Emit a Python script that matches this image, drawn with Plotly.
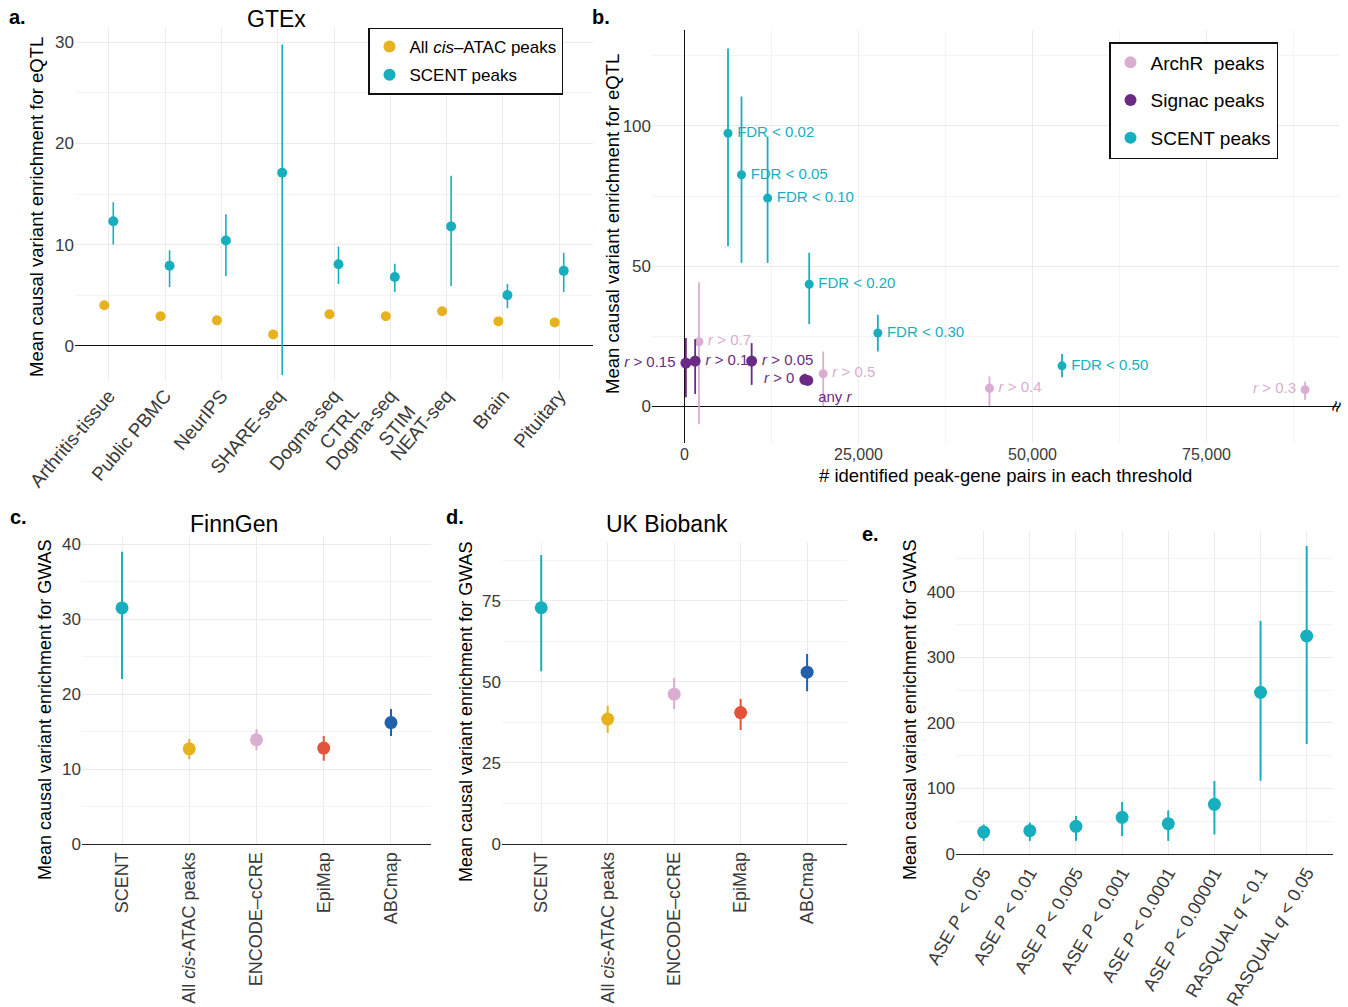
import plotly.graph_objects as go

W, H = 1348, 1007
FONT = "Liberation Sans, Arial, sans-serif"
TEAL = "#17AFBE"
YELLOW = "#E6B31E"
PINK = "#D9AED0"
PURPLE = "#6B2A84"
RED = "#E3533A"
BLUE = "#2260AC"
GRID = "#EBEBEB"
MINOR = "#F4F4F4"
TICKC = "#3A3A3A"

# ---------------- Panel a: GTEx ----------------
gtex_datasets = ["Arthritis-tissue", "Public PBMC", "NeurIPS", "SHARE-seq",
                 "Dogma-seq<br>CTRL", "Dogma-seq<br>STIM", "NEAT-seq", "Brain", "Pituitary"]
gtex_all_mean = [4.0, 2.9, 2.5, 1.1, 3.1, 2.9, 3.4, 2.4, 2.3]
gtex_all_hi = [4.3, 3.2, 2.8, 1.4, 3.4, 3.2, 3.7, 2.7, 2.6]
gtex_all_lo = [3.7, 2.6, 2.2, 0.8, 2.8, 2.6, 3.1, 2.1, 2.0]
gtex_scent_mean = [12.3, 7.9, 10.4, 17.1, 8.05, 6.8, 11.8, 5.0, 7.4]
gtex_scent_hi = [14.2, 9.45, 13.0, 29.8, 9.8, 8.1, 16.8, 6.1, 9.2]
gtex_scent_lo = [10.0, 5.8, 6.9, -2.9, 6.1, 5.3, 5.9, 3.7, 5.3]

# ---------------- Panel b: thresholds ----------------
scent_labels = ["FDR &lt; 0.02", "FDR &lt; 0.05", "FDR &lt; 0.10", "FDR &lt; 0.20", "FDR &lt; 0.30", "FDR &lt; 0.50"]
scent_npairs = [6250, 8190, 11940, 17920, 27780, 54240]
scent_mean = [97.4, 82.6, 74.3, 43.6, 26.2, 14.5]
scent_hi = [127.6, 110.5, 96.2, 54.8, 32.7, 18.7]
scent_lo = [57.1, 51.2, 51.2, 29.4, 19.6, 10.4]
scent_pos = ["middle right"] * 6

signac_labels = ["<i>r</i> &gt; 0.15", "<i>r</i> &gt; 0.1", "<i>r</i> &gt; 0.05", "<i>r</i> &gt; 0", "any <i>r</i>"]
signac_npairs = [200, 1530, 9650, 17290, 17710]
signac_mean = [15.5, 16.2, 16.2, 9.6, 9.3]
signac_hi = [24.4, 24.0, 22.6, 11.7, 10.8]
signac_lo = [3.3, 4.5, 7.7, 8.1, 7.8]
signac_pos = ["middle left", "middle right", "middle right", "middle left", "bottom right"]

archr_labels = ["<i>r</i> &gt; 0.7", "<i>r</i> &gt; 0.5", "<i>r</i> &gt; 0.4", "<i>r</i> &gt; 0.3"]
archr_npairs = [2080, 19930, 43820, 89170]
archr_mean = [23.1, 11.7, 6.5, 6.0]
archr_hi = [44.3, 19.6, 10.7, 8.9]
archr_lo = [-6.3, 0.2, 0.2, 2.4]
archr_pos = ["middle right", "middle right", "middle right", "middle left"]

# ---------------- Panels c, d: GWAS ----------------
annot_sets = ["SCENT", "All <i>cis</i>-ATAC peaks", "ENCODE–cCRE", "EpiMap", "ABCmap"]
annot_colors = [TEAL, YELLOW, PINK, RED, BLUE]
finngen_mean = [31.5, 12.7, 13.9, 12.8, 16.2]
finngen_hi = [39.0, 14.0, 15.3, 14.4, 18.0]
finngen_lo = [22.0, 11.3, 12.5, 11.1, 14.4]
ukb_mean = [72.9, 38.5, 46.2, 40.5, 53.0]
ukb_hi = [89.2, 42.6, 51.2, 44.7, 58.6]
ukb_lo = [53.3, 34.3, 41.6, 35.1, 47.1]

# ---------------- Panel e: ASE / RASQUAL ----------------
qtl_sets = ["ASE <i>P</i> &lt; 0.05", "ASE <i>P</i> &lt; 0.01", "ASE <i>P</i> &lt; 0.005",
            "ASE <i>P</i> &lt; 0.001", "ASE <i>P</i> &lt; 0.0001", "ASE <i>P</i> &lt; 0.00001",
            "RASQUAL <i>q</i> &lt; 0.1", "RASQUAL <i>q</i> &lt; 0.05"]
qtl_mean = [33.5, 35.6, 42.2, 55.9, 46.3, 75.7, 246.5, 332.4]
qtl_hi = [45, 48, 58, 79.3, 66.6, 111.3, 355.3, 469.6]
qtl_lo = [20, 20, 20, 27.4, 20, 30, 111.8, 167.7]


def err(mean, hi, lo, color, thick=1.6):
    return dict(type="data", symmetric=False,
                array=[h - m for h, m in zip(hi, mean)],
                arrayminus=[m - l for m, l in zip(mean, lo)],
                color=color, thickness=thick, width=0)


fig = go.Figure()

# Panel a
DODGE = 0.08
idx_a = list(range(len(gtex_datasets)))
fig.add_trace(go.Scatter(
    x=[i - DODGE for i in idx_a], y=gtex_all_mean, mode="markers",
    marker=dict(color=YELLOW, size=10), error_y=err(gtex_all_mean, gtex_all_hi, gtex_all_lo, YELLOW),
    name="All <i>cis</i>–ATAC peaks", legend="legend", legendgroup="a1", xaxis="x", yaxis="y"))
fig.add_trace(go.Scatter(
    x=[i + DODGE for i in idx_a], y=gtex_scent_mean, mode="markers",
    marker=dict(color=TEAL, size=10), error_y=err(gtex_scent_mean, gtex_scent_hi, gtex_scent_lo, TEAL),
    name="SCENT peaks", legend="legend", legendgroup="a2", xaxis="x", yaxis="y"))

# Panel b
for grp, name, xs, ys, hi, lo, col, sz, labels, pos in [
    ("g1", "ArchR  peaks", archr_npairs, archr_mean, archr_hi, archr_lo, PINK, 9, archr_labels, archr_pos),
    ("g2", "Signac peaks", signac_npairs, signac_mean, signac_hi, signac_lo, PURPLE, 11, signac_labels, signac_pos),
    ("g3", "SCENT peaks", scent_npairs, scent_mean, scent_hi, scent_lo, TEAL, 9, scent_labels, scent_pos),
]:
    fig.add_trace(go.Scatter(
        x=xs, y=ys, mode="markers", marker=dict(color=col, size=sz),
        error_y=err(ys, hi, lo, col, 1.8), name=name, legend="legend2", legendgroup=grp,
        xaxis="x2", yaxis="y2"))
    fig.add_trace(go.Scatter(
        x=xs, y=ys, mode="markers+text", text=labels, textposition=pos,
        marker=dict(size=sz + 4, color="rgba(0,0,0,0)"), cliponaxis=False,
        textfont=dict(color=col, size=15, family=FONT), showlegend=False,
        hoverinfo="skip", xaxis="x2", yaxis="y2"))

# Panels c, d
idx_cd = list(range(len(annot_sets)))
for i, col in enumerate(annot_colors):
    fig.add_trace(go.Scatter(
        x=[idx_cd[i]], y=[finngen_mean[i]], mode="markers", marker=dict(color=col, size=13),
        error_y=err([finngen_mean[i]], [finngen_hi[i]], [finngen_lo[i]], col, 2),
        showlegend=False, xaxis="x3", yaxis="y3"))
    fig.add_trace(go.Scatter(
        x=[idx_cd[i]], y=[ukb_mean[i]], mode="markers", marker=dict(color=col, size=13),
        error_y=err([ukb_mean[i]], [ukb_hi[i]], [ukb_lo[i]], col, 2),
        showlegend=False, xaxis="x4", yaxis="y4"))

# Panel e
idx_e = list(range(len(qtl_sets)))
fig.add_trace(go.Scatter(
    x=idx_e, y=qtl_mean, mode="markers", marker=dict(color=TEAL, size=13),
    error_y=err(qtl_mean, qtl_hi, qtl_lo, TEAL, 2), showlegend=False, xaxis="x5", yaxis="y5"))


def px(x0, x1):
    return [x0 / W, x1 / W]


def py(top, bottom):
    return [1 - bottom / H, 1 - top / H]


tickfont = dict(family=FONT, size=17, color=TICKC)


def yax(domain, rng, dtick, minor, anchor, zeroline=True):
    return dict(domain=domain, range=rng, dtick=dtick, tick0=0, anchor=anchor,
                showgrid=True, gridcolor=GRID, gridwidth=1.3,
                minor=dict(dtick=minor, tick0=0, showgrid=True, gridcolor=MINOR, gridwidth=1.1),
                zeroline=zeroline, zerolinecolor="#111111", zerolinewidth=1.4,
                showline=False, ticks="", tickfont=tickfont, automargin=False, fixedrange=True)


def xcat(domain, rng, vals, text, angle, anchor, size=18):
    return dict(domain=domain, range=rng, tickvals=vals, ticktext=text, tickangle=angle,
                anchor=anchor, showgrid=True, gridcolor=GRID, gridwidth=1.3, zeroline=False,
                showline=False, ticks="", tickfont=dict(family=FONT, size=size, color=TICKC),
                automargin=False, fixedrange=True)


layout = dict(
    width=W, height=H, margin=dict(l=0, r=0, t=0, b=0), autosize=False,
    paper_bgcolor="white", plot_bgcolor="white",
    font=dict(family=FONT, color="black"),
    xaxis=xcat(px(75, 593), [-0.6, 8.6], idx_a, gtex_datasets, -50, "y", size=19),
    yaxis=yax(py(28.3, 380), [-3.4, 31.4], 10, 5, "x"),
    xaxis2=dict(domain=px(652, 1339), range=[-4670, 94040], tickvals=[0, 25000, 50000, 75000],
                tickformat=",", anchor="y2", showgrid=True, gridcolor=GRID, gridwidth=1.3,
                minor=dict(dtick=12500, tick0=0, showgrid=True, gridcolor=MINOR, gridwidth=1.1),
                zeroline=True, zerolinecolor="#111111", zerolinewidth=1.4, showline=False,
                ticks="", tickfont=dict(family=FONT, size=16, color=TICKC), automargin=False,
                fixedrange=True),
    yaxis2=yax(py(30, 443), [-13, 134.2], 50, 25, "x2"),
    xaxis3=xcat(px(82, 431), [-0.595, 4.595], idx_cd, annot_sets, -90, "y3"),
    yaxis3=yax(py(536.7, 844), [0, 41], 10, 5, "x3", zeroline=False),
    xaxis4=xcat(px(502, 847), [-0.59, 4.6], idx_cd, annot_sets, -90, "y4"),
    yaxis4=yax(py(541.7, 843.7), [0, 93.3], 25, 12.5, "x4", zeroline=False),
    xaxis5=xcat(px(956, 1333), [-0.6, 7.57], idx_e, qtl_sets, -60, "y5"),
    yaxis5=yax(py(530.7, 854), [0, 493], 100, 50, "x5", zeroline=False),
    legend=dict(x=368 / W, y=1 - 27.5 / H, xanchor="left", yanchor="top",
                bordercolor="#111111", borderwidth=1.5, bgcolor="white",
                font=dict(family=FONT, size=17, color="black"), tracegroupgap=3,
                itemsizing="constant"),
    legend2=dict(x=1109 / W, y=1 - 42 / H, xanchor="left", yanchor="top",
                 bordercolor="#111111", borderwidth=1.5, bgcolor="white",
                 font=dict(family=FONT, size=19, color="black"), tracegroupgap=10,
                 itemsizing="constant"),
    showlegend=True,
)
for ax in ["xaxis3", "xaxis4", "xaxis5"]:
    layout[ax].update(showline=True, linecolor="#222222", linewidth=1.3)

fig.update_layout(**layout)


def ann(text, x, y, size, bold=False, angle=0, color="black", xanchor="center"):
    fig.add_annotation(text=f"<b>{text}</b>" if bold else text, x=x / W, y=1 - y / H,
                       xref="paper", yref="paper", showarrow=False, textangle=angle,
                       xanchor=xanchor, yanchor="middle",
                       font=dict(family=FONT, size=size, color=color))


# panel letters
ann("a.", 7, 17, 20, bold=True, xanchor="left")
ann("b.", 590, 17, 20, bold=True, xanchor="left")
ann("c.", 8, 517, 20, bold=True, xanchor="left")
ann("d.", 444, 517, 20, bold=True, xanchor="left")
ann("e.", 860, 534, 20, bold=True, xanchor="left")
# titles
ann("GTEx", 276, 19, 23)
ann("FinnGen", 234, 524, 23)
ann("UK Biobank", 667, 524, 23)
# axis titles
ann("Mean causal variant enrichment for eQTL", 37, 207, 18.5, angle=-90)
ann("Mean causal variant enrichment for eQTL", 612, 224, 18.5, angle=-90)
ann("# identified peak-gene pairs in each threshold", 1006, 475, 18.5)
ann("Mean causal variant enrichment for GWAS", 45, 710, 18, angle=-90)
ann("Mean causal variant enrichment for GWAS", 466, 712, 18, angle=-90)
ann("Mean causal variant enrichment for GWAS", 910, 710, 18, angle=-90)
# axis break mark
ann("≈", 1336, 407, 20, angle=-70)

fig.write_html("out.html", config={"displayModeBar": False},
               post_script="document.body.style.margin='0px';")
